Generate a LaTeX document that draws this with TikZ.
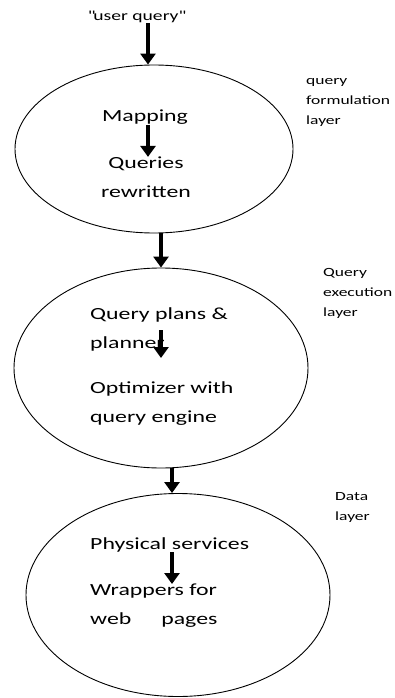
\documentclass[tikz,border=0pt]{standalone}
\usepackage{fontspec}
\setmainfont{Carlito}[FakeStretch=1.4]
\usetikzlibrary{shapes.geometric, arrows.meta, positioning}

\begin{document}
\begin{tikzpicture}[x=1pt, y=-1pt,
  layerbox/.style={draw, ellipse, line width=0.9pt, inner sep=0pt},
  flow/.style={-{Triangle[width=15pt, length=11pt]}, line width=3.4pt},
  lbl/.style={font=\fontsize{17}{29}\selectfont, inner sep=0pt, align=left},
  side/.style={font=\fontsize{12.5}{20}\selectfont, inner sep=0pt, align=left, anchor=west}]
  \useasboundingbox (0,0) rectangle (395,698);

  % Input
  \node[font=\fontsize{14}{17}\selectfont, inner sep=0pt] (uq) at (136,17) {\textquotedbl user query\textquotedbl};

  % Query formulation layer
  \node[layerbox, minimum width=278pt, minimum height=168pt] (formul) at (154,149) {};
  \node[lbl] (map) at (145,117) {Mapping};
  \node[lbl, align=center] (qrw) at (146,177.5) {Queries\\rewritten};
  \node[side] (formLbl) at (306,102) {query\\formulation\\layer};

  % Query execution layer
  \node[layerbox, minimum width=294pt, minimum height=200pt] (exec) at (161,368) {};
  \node[lbl, anchor=west] (plans) at (90,329) {Query plans \&\\planner};
  \node[lbl, anchor=west] (optim) at (90,403.5) {Optimizer with\\query engine};
  \coordinate (plTop) at (161,330);
  \coordinate (plEnd) at (161,358);
  \node[side] (execLbl) at (323,293) {Query\\execution\\layer};

  % Data layer
  \node[layerbox, minimum width=304pt, minimum height=203pt] (data) at (178,595) {};
  \node[lbl, anchor=west] (phys) at (90,545) {Physical services};
  \node[lbl, anchor=west] (wrap) at (90,606) {Wrappers for\\web\hspace{30pt}pages};
  \node[side] (dataLbl) at (335,507.5) {Data\\layer};

  % Arrows
  \draw[flow] (uq.south -| 148,0) -- (formul.north -| 148,0);
  \draw[flow] (map.south -| 148,0) -- (qrw.north -| 148,0);
  \draw[flow] (formul.south -| 161,0) -- (exec.north -| 161,0);
  \draw[flow] (plTop) -- (plEnd);
  \draw[flow] (exec.south -| 172,0) -- (data.north -| 172,0);
  \draw[flow] (phys.south -| 172,0) -- (wrap.north -| 172,0);
\end{tikzpicture}
\end{document}
